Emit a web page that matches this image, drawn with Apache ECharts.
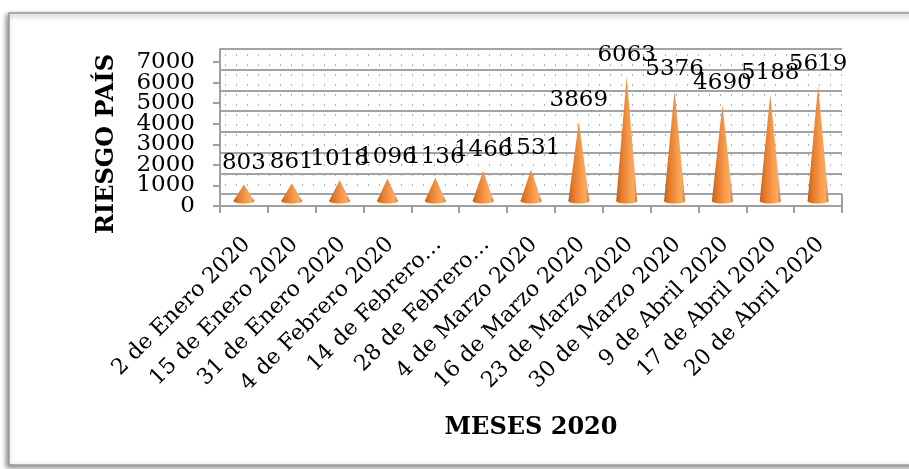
<!DOCTYPE html>
<html>
<head>
<meta charset="utf-8">
<script src="https://cdn.jsdelivr.net/npm/echarts@6/dist/echarts.min.js"></script>
<style>
html,body{margin:0;padding:0;background:#fff;}
#chart{width:909px;height:469px;}
</style>
</head>
<body>
<div id="chart"></div>
<script>
const categories = ['2 de Enero 2020', '15 de Enero 2020', '31 de Enero 2020', '4 de Febrero 2020', '14 de Febrero…', '28 de Febrero…', '4 de Marzo 2020', '16 de Marzo 2020', '23 de Marzo 2020', '30 de Marzo 2020', '9 de Abril 2020', '17 de Abril 2020', '20 de Abril 2020'];
const riesgoPais = [803, 861, 1018, 1096, 1136, 1466, 1531, 3869, 6063, 5376, 4690, 5188, 5619];
const yMin = 0, yMax = 7000, yStep = 1000;
const yTitle = 'RIESGO PAÍS';
const xTitle = 'MESES 2020';

const SERIF = '"DejaVu Serif", "Liberation Serif", serif';

// dotted wall pattern
const pat = document.createElement('canvas');
pat.width = 11; pat.height = 10;
const pctx = pat.getContext('2d');
pctx.fillStyle = '#fff'; pctx.fillRect(0,0,11,10);
pctx.fillStyle = '#8fb8e2'; pctx.fillRect(5,4,1,2);

const chart = echarts.init(document.getElementById('chart'));
const L = 220, R = 909 - 842;
const coneGrad = new echarts.graphic.LinearGradient(0, 0, 1, 0, [
  {offset: 0, color: '#c0601c'},
  {offset: 0.25, color: '#e47a2a'},
  {offset: 0.6, color: '#f79a4a'},
  {offset: 0.85, color: '#f9ab66'},
  {offset: 1, color: '#d86e24'}
]);
const yLabelStyle = {margin: 25, color: '#000', fontFamily: SERIF, fontSize: 23};

chart.setOption({
  animation: false,
  grid: [
    {left: L, right: R, top: 49, bottom: 469 - 194},   // back wall
    {left: L, right: R, top: 57, bottom: 469 - 201},   // cones
    {left: L, right: R, top: 62, bottom: 469 - 206}    // front axes
  ],
  xAxis: [
    {gridIndex: 0, type: 'category', data: categories, show: false},
    {gridIndex: 1, type: 'category', data: categories, show: false},
    {gridIndex: 2, type: 'category', data: categories, boundaryGap: true,
     axisLine: {show: true, lineStyle: {color: '#a0a0a0', width: 2}},
     axisTick: {show: true, length: 7, lineStyle: {color: '#a0a0a0', width: 2}},
     axisLabel: {rotate: 45, interval: 0, margin: 38, padding: [0, -4, 0, 0],
       color: '#000', fontFamily: SERIF, fontSize: 22, hideOverlap: false},
     name: xTitle, nameLocation: 'middle', nameGap: 210,
     nameTextStyle: {fontFamily: SERIF, fontWeight: 'bold', fontSize: 24, color: '#000'}}
  ],
  yAxis: [
    {gridIndex: 0, type: 'value', min: yMin, max: yMax, interval: yStep,
     axisLine: {show: true, lineStyle: {color: '#a0a0a0', width: 2}},
     axisTick: {show: false}, axisLabel: {show: false},
     splitLine: {show: true, lineStyle: {color: '#a3a3a3', width: 2}}},
    {gridIndex: 1, type: 'value', min: yMin, max: yMax, interval: yStep, show: false, splitLine: {show: false}},
    // inner tick labels (1000..6000)
    {gridIndex: 2, type: 'value', min: yMin, max: yMax, interval: yStep,
     axisLine: {show: true, lineStyle: {color: '#a0a0a0', width: 2}},
     axisTick: {show: true, length: 7, lineStyle: {color: '#a0a0a0', width: 2}},
     axisLabel: Object.assign({}, yLabelStyle, {
       formatter: function (v) { return (v === yMin || v === yMax) ? '' : String(v); }}),
     splitLine: {show: false}},
    // end tick labels (0 and 7000)
    {gridIndex: 2, type: 'value', position: 'left', offset: 0, min: yMin, max: yMax, interval: yMax - yMin,
     axisLine: {show: false}, axisTick: {show: false},
     axisLabel: Object.assign({}, yLabelStyle, {formatter: function (v) { return String(v); }}),
     splitLine: {show: false}}
  ],
  graphic: [
    {type: 'rect', z: -10, shape: {x: 9, y: 13, width: 920, height: 452},
     style: {fill: '#fff', stroke: '#9a9a9a', lineWidth: 1.5,
       shadowBlur: 5, shadowColor: 'rgba(0,0,0,0.45)', shadowOffsetX: -2, shadowOffsetY: 2}},
    {type: 'rect', z: -5, shape: {x: L, y: 49, width: 622, height: 145},
     style: {fill: {image: pat, repeat: 'repeat'}}},
    {type: 'line', z: 5, shape: {x1: 842, y1: 194, x2: 842, y2: 207},
     style: {stroke: '#a0a0a0', lineWidth: 2}},
    {type: 'text', z: 5, x: 107, y: 144, rotation: Math.PI / 2,
     style: {text: yTitle, fontFamily: SERIF, fontWeight: 'bold', fontSize: 24, fill: '#000',
       align: 'center', verticalAlign: 'middle'}}
  ],
  series: [{
    type: 'custom',
    xAxisIndex: 1, yAxisIndex: 1,
    data: riesgoPais.map((v, i) => [i, v]),
    renderItem: function (params, api) {
      const tip = api.coord([api.value(0), api.value(1)]);
      const base = api.coord([api.value(0), 0]);
      const hw = 10.5, ry = 2.5;
      return {
        type: 'group',
        children: [
          {type: 'polygon', shape: {points: [[tip[0], tip[1]], [base[0] + hw, base[1]], [base[0] - hw, base[1]]]},
           style: {fill: coneGrad}},
          {type: 'ellipse', shape: {cx: base[0], cy: base[1], rx: hw, ry: ry},
           style: {fill: coneGrad}},
          {type: 'text', x: tip[0], y: tip[1] - 21,
           style: {text: String(api.value(1)), fontFamily: SERIF, fontSize: 23, fill: '#000',
             align: 'center', verticalAlign: 'middle'}}
        ]
      };
    }
  }]
});
</script>
</body>
</html>
